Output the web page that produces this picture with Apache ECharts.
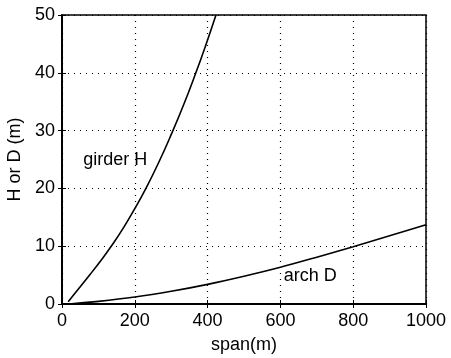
<!DOCTYPE html>
<html>
<head>
<meta charset="utf-8">
<script src="https://cdn.jsdelivr.net/npm/echarts@6/dist/echarts.min.js"></script>
<style>
  html, body { margin: 0; padding: 0; background: #fff; }
  #chart { width: 451px; height: 358px; }
</style>
</head>
<body>
<div id="chart"></div>
<script>
// valeurs
const girderSpan = [17, 40, 77, 110, 141, 170, 200, 228, 265, 302, 335, 366, 394, 423];
const girderH = [0.4, 2.2, 5.1, 7.8, 10.5, 13.3, 16.5, 19.7, 24.4, 29.6, 34.6, 39.7, 44.6, 50];
const archSpan = [20, 100, 200, 300, 400, 500, 600, 700, 800, 900, 1000];
const archD = [0, 0.45, 1.2, 2.2, 3.4, 4.8, 6.35, 8.1, 9.9, 11.8, 13.7];
const labelNames = ["girder H", "arch D"];
const labelSpan = [146, 682];
const labelValue = [24.9, 4.9];

const FONT = "Liberation Sans";
const chart = echarts.init(document.getElementById("chart"));

const tickStyle = { lineStyle: { color: "#000", width: 1 }, inside: true, length: 4 };
const gridLine = { show: true, lineStyle: { color: "#000", type: [1, 5], width: 1.2 } };
const textStyle = { fontFamily: FONT, fontSize: 18, color: "#000" };

function pairs(xs, ys) {
  return xs.map((x, i) => [x, ys[i]]);
}

chart.setOption({
  animation: false,
  grid: {
    left: 62, right: 25, top: 15, bottom: 54,
    outerBoundsMode: "none", containLabel: false,
    show: true, borderColor: "#000", borderWidth: 1.5
  },
  xAxis: [{
    type: "value", min: 0, max: 1000, interval: 200,
    name: "span(m)", nameLocation: "middle", nameGap: 32,
    nameTextStyle: textStyle,
    axisLine: { show: true, onZero: false, lineStyle: { color: "#000", width: 2 } },
    axisTick: tickStyle,
    axisLabel: { ...textStyle, margin: 8, formatter: (v) => String(v) },
    splitLine: gridLine
  }, {
    type: "value", min: 0, max: 1000, interval: 200, position: "top",
    axisLine: { show: false }, axisTick: tickStyle, axisLabel: { show: false }, splitLine: { show: false }
  }],
  yAxis: [{
    type: "value", min: 0, max: 50, interval: 10,
    name: "H or D (m)", nameLocation: "middle", nameGap: 38,
    nameTextStyle: textStyle,
    axisLine: { show: true, onZero: false, lineStyle: { color: "#000", width: 2 } },
    axisTick: tickStyle,
    axisLabel: { ...textStyle, margin: 7 },
    splitLine: gridLine
  }, {
    type: "value", min: 0, max: 50, interval: 10, position: "right",
    axisLine: { show: false }, axisTick: tickStyle, axisLabel: { show: false }, splitLine: { show: false }
  }],
  series: [{
    type: "line",
    data: pairs(girderSpan, girderH),
    smooth: 0.5, showSymbol: false,
    lineStyle: { color: "#000", width: 1.6 }
  }, {
    type: "line",
    data: pairs(archSpan, archD),
    smooth: 0.3, showSymbol: false,
    lineStyle: { color: "#000", width: 1.6 }
  }]
});

// etiquettes des courbes, placees via les axes
chart.setOption({
  graphic: labelNames.map((name, i) => {
    const [px, py] = chart.convertToPixel({ xAxisIndex: 0, yAxisIndex: 0 }, [labelSpan[i], labelValue[i]]);
    return {
      type: "text", x: px, y: py, silent: true,
      style: {
        text: name, fill: "#000", font: `18px "${FONT}"`,
        align: "center", verticalAlign: "middle"
      }
    };
  })
});
</script>
</body>
</html>
